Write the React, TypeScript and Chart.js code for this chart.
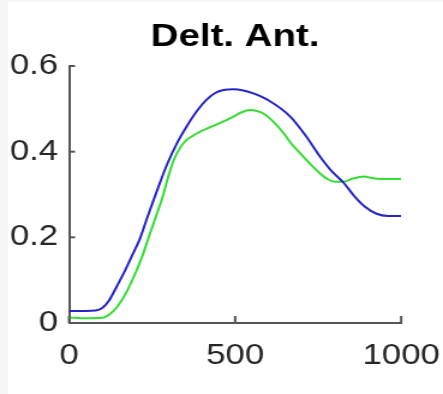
import React, { useEffect, useRef } from "react";
import { Chart, registerables } from "chart.js";

Chart.register(...registerables);

const TITLE = "Delt. Ant.";
const X_TICKS = [0, 500, 1000];
const Y_TICKS = [0, 0.2, 0.4, 0.6];

const blueX = [0, 50, 80, 100, 120, 140, 165, 190, 215, 235, 255, 275, 295, 325, 355, 385, 415, 440, 465, 495, 525, 555, 600, 666, 710, 756, 790, 826, 860, 890, 926, 960, 1000];
const blueY = [0.028, 0.028, 0.029, 0.035, 0.052, 0.08, 0.117, 0.158, 0.2, 0.245, 0.288, 0.33, 0.37, 0.42, 0.46, 0.495, 0.522, 0.537, 0.544, 0.546, 0.543, 0.536, 0.52, 0.482, 0.44, 0.388, 0.355, 0.328, 0.295, 0.272, 0.255, 0.25, 0.25];

const greenX = [0, 50, 100, 125, 145, 170, 195, 220, 240, 260, 280, 300, 315, 335, 355, 375, 395, 425, 455, 495, 520, 545, 565, 585, 615, 646, 670, 696, 725, 756, 780, 800, 826, 853, 886, 916, 950, 1000];
const greenY = [0.013, 0.011, 0.012, 0.022, 0.038, 0.068, 0.108, 0.155, 0.2, 0.245, 0.29, 0.345, 0.38, 0.41, 0.428, 0.438, 0.447, 0.457, 0.467, 0.482, 0.492, 0.497, 0.495, 0.489, 0.47, 0.443, 0.418, 0.396, 0.372, 0.349, 0.335, 0.33, 0.33, 0.337, 0.342, 0.338, 0.336, 0.336];

const AXIS_COLOR = "#555555";
const TEXT_COLOR = "#262626";
const FONT = "'Liberation Sans', Arial, Helvetica, sans-serif";

// The reference is horizontally stretched; draw on a narrower canvas and stretch it with CSS.
const OUT_W = 443;
const OUT_H = 394;
const STRETCH = 1.2;
const CANVAS_W = Math.round(OUT_W / STRETCH);

const inwardTicks = {
  id: "inwardTicks",
  afterDatasetsDraw(chart: any) {
    const { ctx, scales } = chart;
    const x = scales.x;
    const y = scales.y;
    ctx.save();
    ctx.strokeStyle = AXIS_COLOR;
    ctx.lineWidth = 2;
    x.ticks.forEach((t: any) => {
      const px = x.getPixelForValue(t.value);
      ctx.beginPath();
      ctx.moveTo(px, y.bottom);
      ctx.lineTo(px, y.bottom - 7);
      ctx.stroke();
    });
    y.ticks.forEach((t: any) => {
      const py = y.getPixelForValue(t.value);
      ctx.beginPath();
      ctx.moveTo(x.left, py);
      ctx.lineTo(x.left + 5, py);
      ctx.stroke();
    });
    ctx.restore();
  },
};

export default function App() {
  const ref = useRef<HTMLCanvasElement>(null);
  useEffect(() => {
    if (!ref.current) return;
    const chart = new Chart(ref.current, {
      type: "line",
      data: {
        datasets: [
          {
            label: "blue",
            data: blueX.map((x, i) => ({ x, y: blueY[i] })),
            borderColor: "#2424c8",
            borderWidth: 2,
            pointRadius: 0,
            cubicInterpolationMode: "monotone",
            fill: false,
          },
          {
            label: "green",
            data: greenX.map((x, i) => ({ x, y: greenY[i] })),
            borderColor: "#33dd33",
            borderWidth: 2,
            pointRadius: 0,
            cubicInterpolationMode: "monotone",
            fill: false,
          },
        ],
      },
      options: {
        animation: false,
        responsive: false,
        maintainAspectRatio: false,
        devicePixelRatio: 1,
        layout: { padding: { left: 0, right: CANVAS_W - 401 / STRETCH, top: 0, bottom: 0 } },
        plugins: {
          legend: { display: false },
          tooltip: { enabled: false },
          title: {
            display: true,
            text: TITLE,
            fullSize: false,
            color: "#000000",
            font: { family: FONT, size: 32, weight: "bold", lineHeight: 1 },
            padding: { top: 21, bottom: 13 },
          },
        },
        scales: {
          x: {
            type: "linear",
            min: 0,
            max: 1000,
            afterBuildTicks: (s: any) => {
              s.ticks = X_TICKS.map((v) => ({ value: v }));
            },
            afterFit: (s: any) => {
              s.height = 71;
              s.paddingLeft = 0;
              s.paddingRight = 0;
            },
            grid: { display: false, drawTicks: false },
            border: { display: true, color: AXIS_COLOR, width: 2 },
            ticks: {
              color: TEXT_COLOR,
              font: { family: FONT, size: 29 },
              padding: 16,
              maxRotation: 0,
              autoSkip: false,
              callback: (v: any) => String(v),
            },
          },
          y: {
            type: "linear",
            min: 0,
            max: 0.6,
            afterBuildTicks: (s: any) => {
              s.ticks = Y_TICKS.map((v) => ({ value: v }));
            },
            afterFit: (s: any) => {
              s.width = 69 / STRETCH;
            },
            grid: { display: false, drawTicks: false },
            border: { display: true, color: AXIS_COLOR, width: 2 },
            ticks: {
              color: TEXT_COLOR,
              font: { family: FONT, size: 29 },
              padding: 9,
              callback: (v: any) => (v === 0 ? "0" : Number(v).toFixed(1)),
            },
          },
        },
      },
      plugins: [inwardTicks],
    } as any);
    return () => chart.destroy();
  }, []);
  return (
    <div style={{ position: "absolute", left: 0, top: 0, width: OUT_W, height: OUT_H, background: "#f7f7f7" }}>
      <div style={{ position: "absolute", left: 8, top: 2, width: OUT_W - 8, height: OUT_H - 2, background: "#ffffff" }} />
      <canvas
        ref={ref}
        width={CANVAS_W}
        height={OUT_H}
        style={{ position: "absolute", left: 0, top: 0, width: OUT_W, height: OUT_H }}
      />
    </div>
  );
}
